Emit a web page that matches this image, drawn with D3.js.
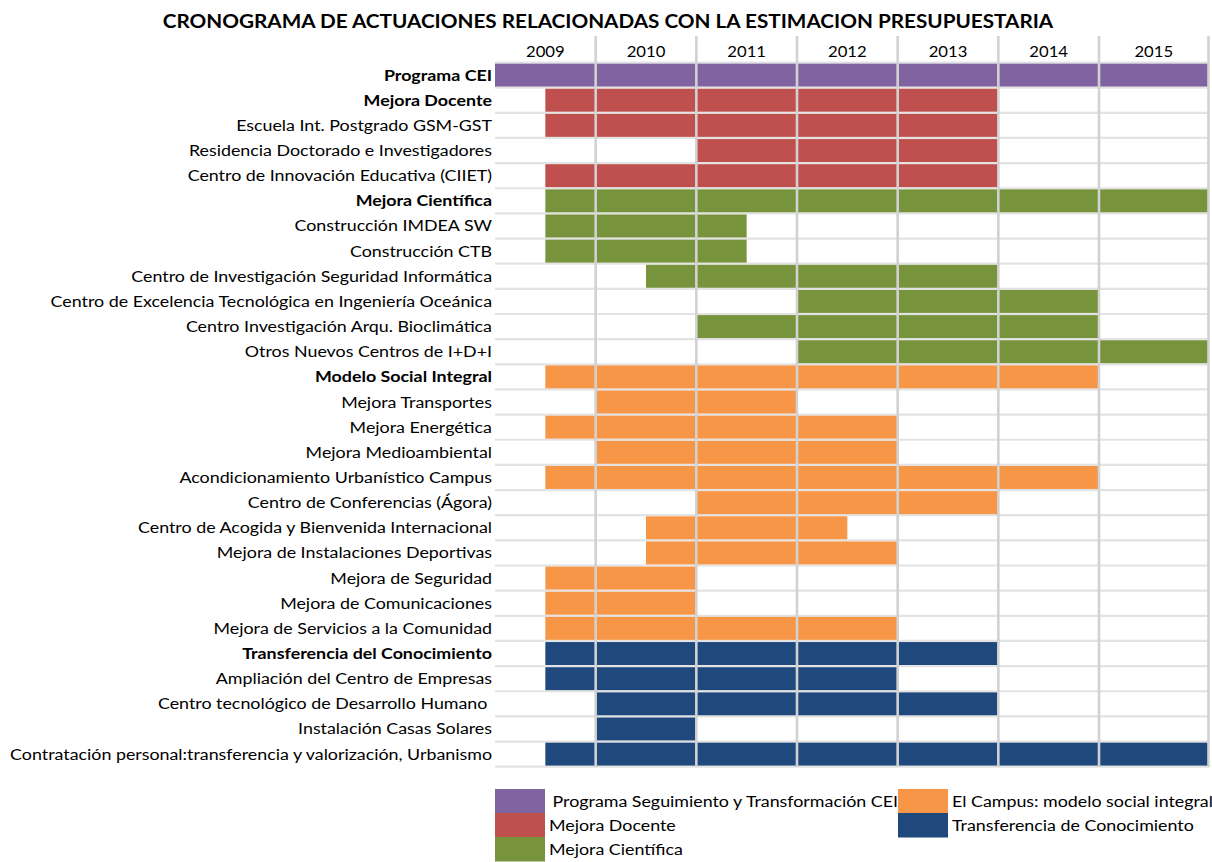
<!DOCTYPE html>
<html><head><meta charset="utf-8">
<script src="https://cdn.jsdelivr.net/npm/d3@7"></script>
<style>body{margin:0;background:#fff;} text{font-family:Lato, "Open Sans", sans-serif;}</style>
</head><body>
<svg id="c" width="1212" height="862"></svg>
<script>
const title = "CRONOGRAMA DE ACTUACIONES RELACIONADAS CON LA ESTIMACION PRESUPUESTARIA";
const years = ["2009","2010","2011","2012","2013","2014","2015"];
const tasks = [
 "Programa CEI","Mejora Docente","Escuela Int. Postgrado GSM-GST","Residencia Doctorado e Investigadores",
 "Centro de Innovación Educativa (CIIET)","Mejora Científica","Construcción IMDEA SW","Construcción CTB",
 "Centro de Investigación Seguridad Informática","Centro de Excelencia Tecnológica en Ingeniería Oceánica",
 "Centro Investigación Arqu. Bioclimática","Otros Nuevos Centros de I+D+I","Modelo Social Integral",
 "Mejora Transportes","Mejora Energética","Mejora Medioambiental","Acondicionamiento Urbanístico Campus",
 "Centro de Conferencias (Ágora)","Centro de Acogida y Bienvenida Internacional","Mejora de Instalaciones Deportivas",
 "Mejora de Seguridad","Mejora de Comunicaciones","Mejora de Servicios a la Comunidad",
 "Transferencia del Conocimiento","Ampliación del Centro de Empresas","Centro tecnológico de Desarrollo Humano ",
 "Instalación Casas Solares","Contratación personal:transferencia y valorización, Urbanismo"];
const boldTasks = ["Programa CEI","Mejora Docente","Mejora Científica","Modelo Social Integral","Transferencia del Conocimiento"];
const starts = [2009,2009.5,2009.5,2011,2009.5,2009.5,2009.5,2009.5,2010.5,2012,2011,2012,2009.5,2010,2009.5,2010,2009.5,2011,2010.5,2010.5,2009.5,2009.5,2009.5,2009.5,2009.5,2010,2010,2009.5];
const ends   = [2016,2014,2014,2014,2014,2016,2011.5,2011.5,2014,2015,2015,2016,2015,2012,2013,2013,2015,2014,2012.5,2013,2011,2011,2013,2014,2013,2014,2011,2016];
const groups = ["cei","doc","doc","doc","doc","cie","cie","cie","cie","cie","cie","cie","soc","soc","soc","soc","soc","soc","soc","soc","soc","soc","soc","tra","tra","tra","tra","tra"];
const legendKeys = ["cei","doc","cie","soc","tra"];
const legendLabels = [" Programa Seguimiento y Transformación CEI","Mejora Docente","Mejora Científica","El Campus: modelo social integral","Transferencia de Conocimiento"];
const legendColors = ["#8064A2","#C0504D","#77933C","#F79646","#1F497D"];

const svg = d3.select("#c");
const x = d3.scaleLinear().domain([2009,2015,2016]).range([495,1099,1208.5]);
const y = d3.scaleBand().domain(tasks).range([62.5,766.7]).padding(0);
const color = d3.scaleOrdinal().domain(legendKeys).range(legendColors);
const STRETCH = 1.15;

svg.append("text").attr("class","st").attr("x",608).attr("y",28).attr("text-anchor","middle")
  .attr("font-size",18).attr("font-weight","bold").attr("fill","#000").text(title);

// horizontal row lines
const bounds = tasks.map(t=>y(t)).concat([y.range()[1]]);
svg.append("g").selectAll("line").data(bounds).join("line")
  .attr("x1",495).attr("x2",1209).attr("y1",d=>d).attr("y2",d=>d)
  .attr("stroke","#e3e3e3").attr("stroke-width",2.2);

// bars
svg.append("g").selectAll("rect").data(tasks).join("rect")
  .attr("x",(d,i)=>x(starts[i])).attr("width",(d,i)=>x(ends[i])-x(starts[i]))
  .attr("y",d=>y(d)+1.1).attr("height",y.bandwidth()-2.2)
  .attr("fill",(d,i)=>color(groups[i]));

// vertical year lines
const vl = [2010,2011,2012,2013,2014,2015,2016];
svg.append("g").selectAll("line").data(vl).join("line")
  .attr("x1",d=>x(d)).attr("x2",d=>x(d)).attr("y1",36).attr("y2",767)
  .attr("stroke","#d2d2d2").attr("stroke-width",2.6);

// year labels
svg.append("g").selectAll("text").data(years).join("text").attr("class","st")
  .attr("x",d=>(x(+d)+x(+d+1))/2).attr("y",57).attr("text-anchor","middle")
  .attr("font-size",14.5).attr("fill","#000").text(d=>d);

// row labels
svg.append("g").selectAll("text").data(tasks).join("text").attr("class","st")
  .attr("x",492).attr("y",d=>y(d)+y.bandwidth()/2+5.5).attr("text-anchor","end")
  .attr("font-size",15.5).attr("font-weight",d=>boldTasks.includes(d)?"bold":"normal")
  .attr("fill","#000").style("white-space","pre").text(d=>d);

// legend
const lpos = [[495,789],[495,813],[495,837],[898,789],[898,813]];
const lg = svg.append("g").selectAll("g").data(legendKeys).join("g")
  .attr("transform",(d,i)=>`translate(${lpos[i][0]},${lpos[i][1]})`);
lg.append("rect").attr("width",50).attr("height",24.5).attr("fill",(d,i)=>legendColors[i]);
lg.append("text").attr("class","st").attr("x",(d,i)=>i===0?53:54).attr("y",18).attr("font-size",15.5).attr("fill","#000")
  .style("white-space","pre").text((d,i)=>legendLabels[i]);

// widen glyphs to match the reference's wide face
svg.selectAll("text.st").each(function(){
  const L = this.getComputedTextLength();
  d3.select(this).attr("textLength", L*STRETCH).attr("lengthAdjust","spacingAndGlyphs");
});
</script></body></html>
